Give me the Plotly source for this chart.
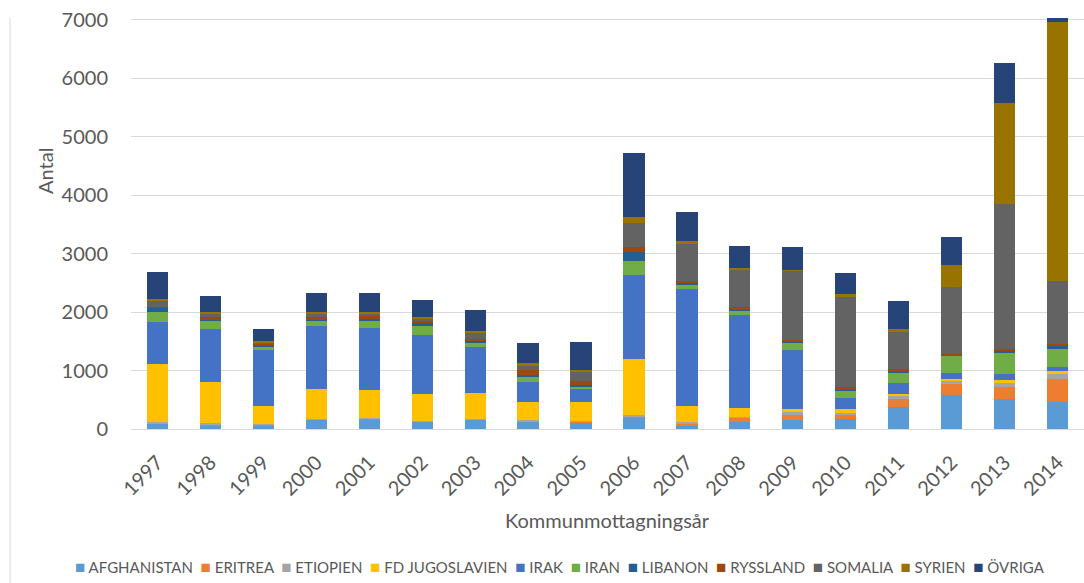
import plotly.graph_objects as go

years = [str(y) for y in range(1997, 2015)]

afghanistan = [97, 68, 68, 154, 171, 126, 160, 126, 97, 194, 57, 126, 154, 171, 382, 576, 513, 462]
eritrea = [5, 10, 5, 10, 12, 5, 5, 8, 35, 12, 40, 68, 91, 74, 126, 200, 200, 388]
etiopien = [12, 18, 12, 13, 5, 6, 12, 20, 5, 28, 23, 17, 46, 28, 68, 46, 80, 86]
fd_jugoslavien = [993, 702, 314, 508, 479, 468, 439, 308, 319, 970, 274, 148, 57, 63, 23, 28, 46, 57]
irak = [730, 907, 953, 1078, 1061, 998, 782, 342, 228, 1426, 2002, 1597, 1004, 194, 188, 108, 97, 63]
iran = [171, 148, 57, 91, 120, 171, 86, 86, 51, 245, 74, 80, 120, 137, 188, 297, 365, 314]
libanon = [68, 23, 11, 11, 40, 34, 23, 28, 11, 160, 23, 11, 23, 11, 11, 6, 34, 51]
ryssland = [17, 34, 40, 46, 46, 40, 28, 91, 68, 86, 40, 34, 28, 34, 34, 23, 28, 40]
somalia = [114, 68, 23, 68, 46, 51, 108, 80, 165, 411, 650, 650, 1181, 1552, 656, 1141, 2487, 1073]
syrien = [11, 28, 17, 28, 28, 23, 34, 34, 28, 91, 28, 28, 17, 46, 34, 382, 1723, 4433]
ovriga = [473, 274, 217, 320, 320, 285, 359, 348, 479, 1107, 502, 377, 399, 354, 479, 485, 690, 74]

series_names = ["AFGHANISTAN", "ERITREA", "ETIOPIEN", "FD JUGOSLAVIEN", "IRAK", "IRAN",
                "LIBANON", "RYSSLAND", "SOMALIA", "SYRIEN", "ÖVRIGA"]
series_values = [afghanistan, eritrea, etiopien, fd_jugoslavien, irak, iran,
                 libanon, ryssland, somalia, syrien, ovriga]
series_colors = ["#5B9BD5", "#ED7D31", "#A5A5A5", "#FFC000", "#4472C4", "#70AD47",
                 "#255E91", "#9E480E", "#636363", "#997300", "#264478"]

y_ticks = [0, 1000, 2000, 3000, 4000, 5000, 6000, 7000]

W, H = 1084, 583
ML, MR, MT, MB = 131, 0, 0, 154
PW, PH = W - ML - MR, H - MT - MB

def px_x(x):
    return (x - ML) / PW

def px_y(y):
    return (H - MB - y) / PH

FONT = "Lato, 'Open Sans', sans-serif"
GREY = "#595959"

fig = go.Figure()
for name, vals, col in zip(series_names, series_values, series_colors):
    fig.add_trace(go.Bar(x=years, y=vals, name=name, marker=dict(color=col, line=dict(width=0))))

fig.update_layout(
    width=W, height=H,
    margin=dict(l=ML, r=MR, t=MT, b=MB),
    barmode="stack", bargap=0.6,
    plot_bgcolor="white", paper_bgcolor="white",
    showlegend=False,
    font=dict(family=FONT, color=GREY),
    xaxis=dict(type="category", tickangle=-45, tickfont=dict(size=20, color=GREY),
               ticks="outside", ticklen=13, tickcolor="rgba(0,0,0,0)",
               showgrid=False, showline=False, zeroline=False),
    yaxis=dict(range=[0, 7342], tickvals=y_ticks, tickfont=dict(size=20, color=GREY),
               ticks="outside", ticklen=18, tickcolor="rgba(0,0,0,0)",
               showgrid=True, gridcolor="#D9D9D9", gridwidth=1.3,
               zeroline=True, zerolinecolor="#D9D9D9", zerolinewidth=1.3, showline=False),
)

legend_text = "&nbsp;&nbsp;".join(
    f"<span style='color:{c};font-size:17px'>■</span> {n}" for n, c in zip(series_names, series_colors)
)

fig.add_annotation(x=px_x(45), y=px_y(171), xref="paper", yref="paper", text="Antal",
                   xanchor="center", yanchor="middle",
                   textangle=-90, showarrow=False, font=dict(size=20, color=GREY, family=FONT))
fig.add_annotation(x=px_x(607), y=px_y(520), xref="paper", yref="paper", text="Kommunmottagningsår",
                   xanchor="center", yanchor="middle",
                   showarrow=False, font=dict(size=20, color=GREY, family=FONT))
fig.add_annotation(x=px_x(560), y=px_y(566), xref="paper", yref="paper", text=legend_text,
                   xanchor="center", yanchor="middle",
                   showarrow=False, font=dict(size=15, color=GREY, family=FONT))

fig.add_shape(type="line", xref="paper", yref="paper", x0=px_x(10), x1=px_x(10),
              y0=px_y(18), y1=px_y(583), line=dict(color="#D9D9D9", width=1))

fig.write_html("out.html", config={"displayModeBar": False},
               post_script="document.body.style.margin='0';document.body.style.overflow='hidden';")
